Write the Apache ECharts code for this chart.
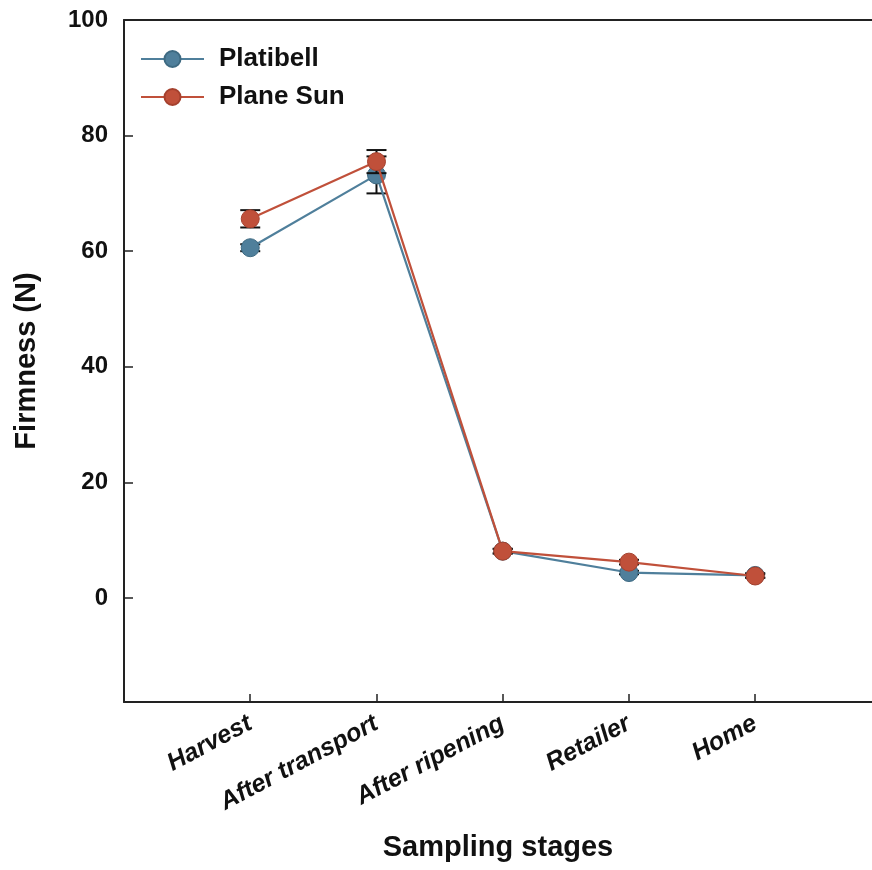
<!DOCTYPE html>
<html>
<head>
<meta charset="utf-8">
<script src="https://cdn.jsdelivr.net/npm/echarts@6/dist/echarts.min.js"></script>
<style>html,body{margin:0;padding:0;background:#fff}#c{width:872px;height:870px}</style>
</head>
<body>
<div id="c"></div>
<script>
const categories = ['Harvest', 'After transport', 'After ripening', 'Retailer', 'Home'];
const platibellMean = [60.6, 73.2, 8.1, 4.4, 3.9];
const platibellErr = [0.6, 3.2, 0.4, 0.3, 0.4];
const planeSunMean = [65.6, 75.5, 8.1, 6.2, 3.8];
const planeSunErr = [1.5, 2.0, 0.4, 0.4, 0.3];
const yTickLabels = [0, 20, 40, 60, 80, 100];

const FONT = 'Liberation Sans, Arial, sans-serif';
const BLUE = '#4f7f9b';
const RED = '#c0503a';

function lineData(means) { return means.map((v, i) => [i + 1, v]); }
function errData(means, errs) { return means.map((v, i) => [i + 1, v - errs[i], v + errs[i]]); }

function renderErr(params, api) {
  const x = api.value(0);
  const lo = api.coord([x, api.value(1)]);
  const hi = api.coord([x, api.value(2)]);
  const hw = 10;
  const st = { stroke: '#111', lineWidth: 2 };
  return {
    type: 'group',
    children: [
      { type: 'line', shape: { x1: lo[0], y1: lo[1], x2: hi[0], y2: hi[1] }, style: st },
      { type: 'line', shape: { x1: lo[0] - hw, y1: lo[1], x2: lo[0] + hw, y2: lo[1] }, style: st },
      { type: 'line', shape: { x1: hi[0] - hw, y1: hi[1], x2: hi[0] + hw, y2: hi[1] }, style: st }
    ]
  };
}

const chart = echarts.init(document.getElementById('c'));
chart.setOption({
  backgroundColor: '#fff',
  animation: false,
  grid: { left: 124, right: 0, top: 20, bottom: 168, containLabel: false, outerBoundsMode: 'none' },
  legend: {
    left: 135, top: 41, orient: 'vertical', itemWidth: 63, itemHeight: 20, itemGap: 12,
    data: ['Platibell', 'Plane Sun'],
    textStyle: { fontFamily: FONT, fontWeight: 'bold', fontSize: 26, color: '#111', padding: [0, 0, 0, 10] }
  },
  xAxis: [{
    type: 'value', min: 0, max: 5.925, position: 'bottom',
    name: 'Sampling stages', nameLocation: 'middle', nameGap: 131,
    nameTextStyle: { fontFamily: FONT, fontWeight: 'bold', fontSize: 29, color: '#111' },
    axisLine: { show: true, onZero: false, lineStyle: { color: '#222', width: 2 } },
    axisTick: { show: true, inside: true, length: 8, lineStyle: { color: '#222', width: 1.5 }, customValues: [1, 2, 3, 4, 5] },
    axisLabel: {
      customValues: [1, 2, 3, 4, 5], rotate: 28, margin: 20,
      formatter: v => categories[Math.round(v) - 1] || '',
      fontFamily: FONT, fontWeight: 'bold', fontStyle: 'italic', fontSize: 25, color: '#111'
    },
    splitLine: { show: false }
  }, {
    type: 'value', min: 0, max: 5.925, position: 'top',
    axisLine: { show: true, onZero: false, lineStyle: { color: '#222', width: 2 } },
    axisTick: { show: false }, axisLabel: { show: false }, splitLine: { show: false }
  }],
  yAxis: {
    type: 'value', min: -18, max: 100,
    name: 'Firmness (N)', nameLocation: 'middle', nameGap: 83,
    nameTextStyle: { fontFamily: FONT, fontWeight: 'bold', fontSize: 29, color: '#111' },
    axisLine: { show: true, onZero: false, lineStyle: { color: '#222', width: 2 } },
    axisTick: { show: true, inside: true, length: 9, lineStyle: { color: '#222', width: 1.5 }, customValues: [0, 20, 40, 60, 80] },
    axisLabel: { customValues: yTickLabels, margin: 16, fontFamily: FONT, fontWeight: 'bold', fontSize: 24, color: '#111' },
    splitLine: { show: false }
  },
  series: [
    { type: 'custom', name: 'errP', renderItem: renderErr, data: errData(platibellMean, platibellErr), z: 2, silent: true },
    {
      type: 'line', name: 'Platibell', data: lineData(platibellMean), z: 3,
      symbol: 'circle', symbolSize: 18,
      lineStyle: { color: BLUE, width: 2.2 },
      itemStyle: { color: BLUE, borderColor: '#3e6a82', borderWidth: 1 }
    },
    { type: 'custom', name: 'errS', renderItem: renderErr, data: errData(planeSunMean, planeSunErr), z: 4, silent: true },
    {
      type: 'line', name: 'Plane Sun', data: lineData(planeSunMean), z: 5,
      symbol: 'circle', symbolSize: 18,
      lineStyle: { color: RED, width: 2.2 },
      itemStyle: { color: RED, borderColor: '#a5412e', borderWidth: 1 }
    }
  ]
});
</script>
</body>
</html>
